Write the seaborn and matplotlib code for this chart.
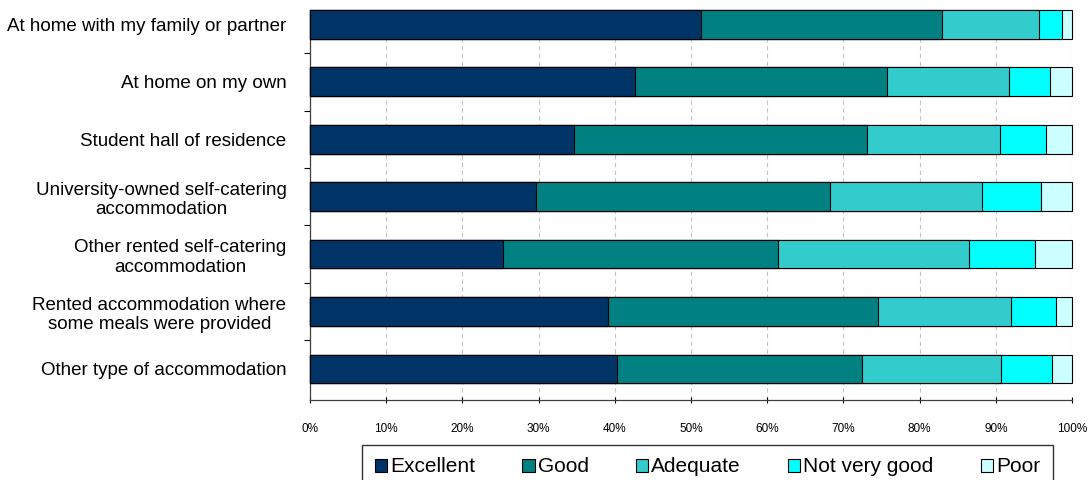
import matplotlib
matplotlib.use("Agg")
import matplotlib.pyplot as plt
from matplotlib.patches import Patch
from matplotlib.ticker import FixedLocator
import seaborn as sns
import pandas as pd

# Data (percent of respondents per rating)
categories = [
    "At home with my family or partner",
    "At home on my own",
    "Student hall of residence",
    "University-owned self-catering\naccommodation",
    "Other rented self-catering\naccommodation",
    "Rented accommodation where\nsome meals were provided",
    "Other type of accommodation",
]
levels = ["Excellent", "Good", "Adequate", "Not very good", "Poor"]
excellent = [51.3, 42.7, 34.6, 29.7, 25.3, 39.1, 40.3]
good = [31.7, 33.0, 38.5, 38.5, 36.1, 35.4, 32.1]
adequate = [12.7, 16.0, 17.5, 20.0, 25.1, 17.5, 18.3]
not_very_good = [3.0, 5.4, 6.0, 7.7, 8.6, 5.9, 6.7]
poor = [1.3, 2.9, 3.4, 4.1, 4.9, 2.1, 2.6]
colors = ["#003366", "#008080", "#33CCCC", "#00FFFF", "#CCFFFF"]
x_ticks = [0, 10, 20, 30, 40, 50, 60, 70, 80, 90, 100]

sns.set_style("white")
plt.rcParams["font.family"] = ["Liberation Sans", "DejaVu Sans"]
plt.rcParams["text.color"] = "black"
plt.rcParams["xtick.color"] = "black"
plt.rcParams["ytick.color"] = "black"

df = pd.DataFrame({"category": categories, "Excellent": excellent,
                   "Good": good, "Adequate": adequate,
                   "Not very good": not_very_good, "Poor": poor})
# cumulative totals so each layer can be drawn from zero
cum = df[levels].cumsum(axis=1)
cum["category"] = df["category"]

fig = plt.figure(figsize=(10.88, 4.8), dpi=100)
ax = fig.add_axes([310 / 1088, 80 / 480, 762 / 1088, 0.8125])

# draw the longest layer first so shorter ones sit on top
for level, col in reversed(list(zip(levels, colors))):
    sns.barplot(data=cum, x=level, y="category", color=col, orient="h",
                width=0.5, edgecolor="black", linewidth=0.8,
                saturation=1, ax=ax, zorder=3)
for bar in ax.patches:
    bar.set_clip_on(False)

ax.set_xlim(0, 100)
ax.set_ylim(6.54, -0.25)
ax.set_xlabel("")
ax.set_ylabel("")

ax.set_xticks(x_ticks)
ax.set_xticklabels([f"{t}%" for t in x_ticks], fontsize=8.5)
ax.tick_params(axis="x", bottom=True, direction="inout", length=5,
               width=0.8, pad=14, colors="black")
ax.set_yticks(range(len(categories)))
ax.set_yticklabels(categories, fontsize=13.5, multialignment="center")
ax.tick_params(axis="y", which="major", left=True, length=0, pad=17)
ax.yaxis.set_minor_locator(FixedLocator([0.5, 1.5, 2.5, 3.5, 4.5, 5.5]))
ax.tick_params(axis="y", which="minor", left=True, direction="out",
               length=4, width=0.8, color="black")

ax.grid(True, axis="x", color="#c4c4c4", linestyle=(0, (4, 3)),
        linewidth=0.8, zorder=0)
ax.grid(False, axis="y")
ax.set_axisbelow(True)
for side in ["top", "right"]:
    ax.spines[side].set_visible(False)
for side in ["left", "bottom"]:
    ax.spines[side].set_color("#404040")
    ax.spines[side].set_linewidth(0.9)

handles = [Patch(facecolor=c, edgecolor="black", linewidth=0.8)
           for c in colors]
leg = fig.legend(handles, levels, loc="upper center",
                 bbox_to_anchor=(707.5 / 1088, 35 / 480), ncol=5,
                 fontsize=15, frameon=True, fancybox=False,
                 edgecolor="black", handlelength=0.6, handleheight=0.6,
                 handletextpad=0.15, columnspacing=2.25, borderpad=0.6,
                 borderaxespad=0)
leg.get_frame().set_linewidth(1.0)

plt.savefig("out.png", dpi=100)
